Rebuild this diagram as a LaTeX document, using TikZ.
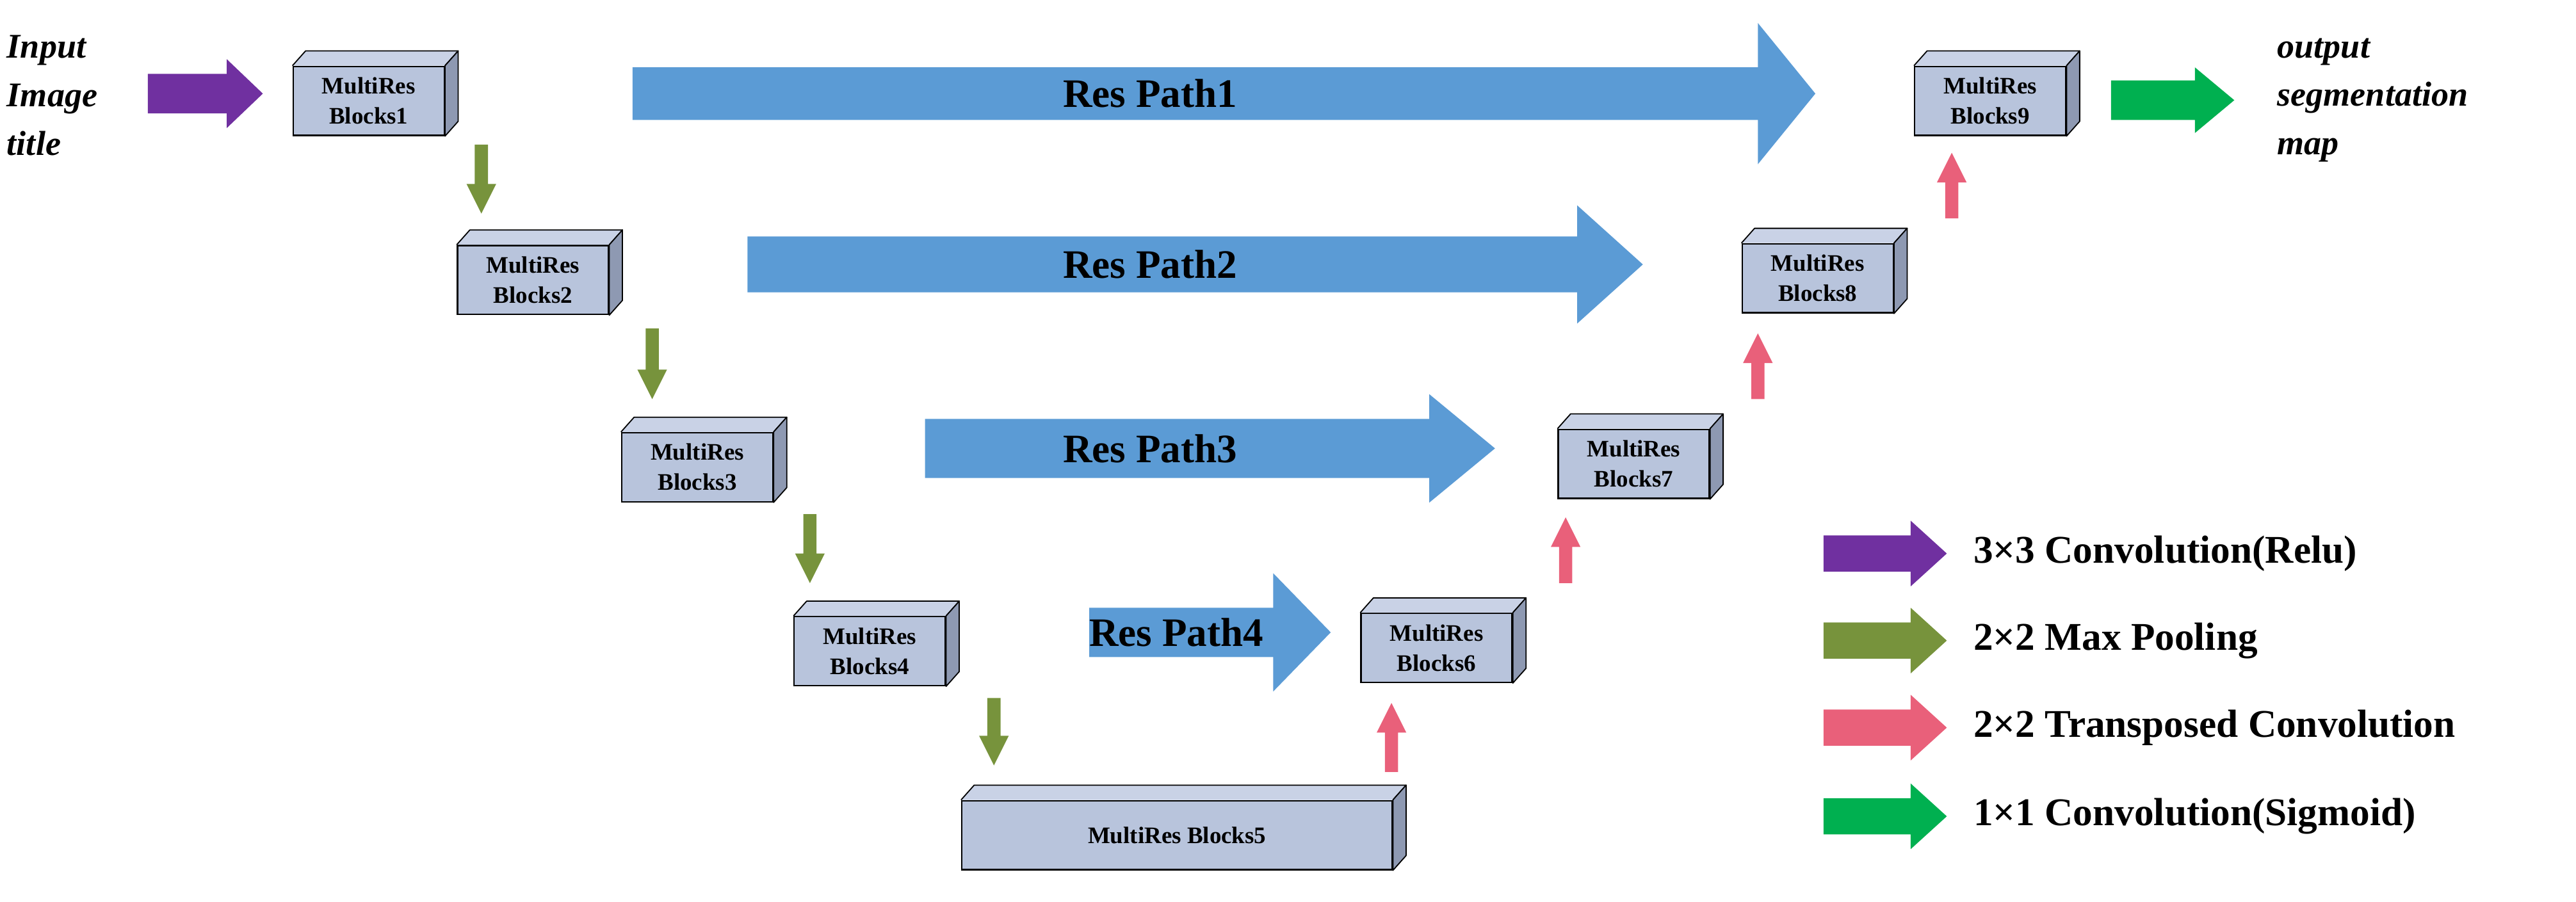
\documentclass[tikz,border=0pt]{standalone}
\usepackage{fontspec}
\setmainfont{Liberation Serif}
\begin{document}
\begin{tikzpicture}[x=0.1cm,y=-0.1cm]
\definecolor{blkf}{HTML}{B8C4DC}\definecolor{blks}{HTML}{8E99B2}\definecolor{blkt}{HTML}{C9D2E6}
\definecolor{cpur}{HTML}{7030A0}\definecolor{cgrn}{HTML}{77933C}\definecolor{cpink}{HTML}{E9607A}
\definecolor{cbg}{HTML}{00B050}\definecolor{cblue}{HTML}{5B9BD5}
\tikzset{blk/.style={draw=black,line width=2.5pt,fill=blkf,inner sep=0pt,align=center,font=\bfseries\fontsize{41}{52}\selectfont},
 face/.style={draw=black,line width=2pt,line join=round},
 rp/.style={font=\bfseries\fontsize{70}{74}\selectfont},
 io/.style={font=\itshape\bfseries\fontsize{60}{84}\selectfont,align=left,anchor=west},
 leg/.style={font=\bfseries\fontsize{68}{72}\selectfont,anchor=west}}
\useasboundingbox (0,0) rectangle (1568,549);
\newcommand\blk[6]{% name, x, y, w, h, text
 \node[blk,anchor=north west,minimum width=#4*0.1cm,minimum height=#5*0.1cm] (#1) at (#2,#3) {};
 \fill[blkt] (#1.north west) -- ++(8,-9) -- ([shift={(8,-9)}]#1.north east) -- (#1.north east) -- cycle;
 \draw[face] (#1.north west) -- ++(8,-9) -- ([shift={(8,-9)}]#1.north east) -- (#1.north east);
 \filldraw[face,fill=blks] (#1.north east) -- ++(8,-9) -- ([shift={(8,-9)}]#1.south east) -- (#1.south east) -- cycle;
 \node[blk,draw=none,fill=none] at (#1.center) {#6};}
\newcommand\harrow[7]{\fill[#7] (#1,#3-#4) -- (#2-#6,#3-#4) -- (#2-#6,#3-#5) -- (#2,#3) -- (#2-#6,#3+#5) -- (#2-#6,#3+#4) -- (#1,#3+#4) -- cycle;}
\newcommand\darrow[4]{\fill[#4] (#1-4,#2) -- (#1+4,#2) -- (#1+4,#3-18) -- (#1+9,#3-18) -- (#1,#3) -- (#1-9,#3-18) -- (#1-4,#3-18) -- cycle;}
\newcommand\uarrow[4]{\fill[#4] (#1-4,#2) -- (#1+4,#2) -- (#1+4,#3+18) -- (#1+9,#3+18) -- (#1,#3) -- (#1-9,#3+18) -- (#1-4,#3+18) -- cycle;}
% res paths
\harrow{385}{1105}{57}{16}{43}{35}{cblue}
\node[rp] (rp1) at (700,57) {Res Path1};
\harrow{455}{1000}{161}{17}{36}{40}{cblue}
\node[rp] (rp2) at (700,161) {Res Path2};
\harrow{563}{910}{273}{18}{33}{40}{cblue}
\node[rp] (rp3) at (700,273) {Res Path3};
\harrow{663}{810}{385}{15}{36}{35}{cblue}
\node[rp] (rp4) at (716,385) {Res Path4};
% blocks
\blk{b1}{178}{40}{92}{42}{MultiRes\\Blocks1}
\blk{b2}{278}{149}{92}{42}{MultiRes\\Blocks2}
\blk{b3}{378}{263}{92}{42}{MultiRes\\Blocks3}
\blk{b4}{483}{375}{92}{42}{MultiRes\\Blocks4}
\blk{b5}{585}{487}{262}{42}{MultiRes Blocks5}
\blk{b6}{828}{373}{92}{42}{MultiRes\\Blocks6}
\blk{b7}{948}{261}{92}{42}{MultiRes\\Blocks7}
\blk{b8}{1060}{148}{92}{42}{MultiRes\\Blocks8}
\blk{b9}{1165}{40}{92}{42}{MultiRes\\Blocks9}
% down/up arrows
\darrow{293}{88}{130}{cgrn}
\darrow{397}{200}{243}{cgrn}
\darrow{493}{313}{355}{cgrn}
\darrow{605}{425}{466}{cgrn}
\uarrow{847}{470}{428}{cpink}
\uarrow{953}{355}{315}{cpink}
\uarrow{1070}{243}{203}{cpink}
\uarrow{1188}{133}{93}{cpink}
% input/output
\harrow{90}{160}{57}{12}{21}{22}{cpur}
\harrow{1285}{1360}{61}{12}{20}{24}{cbg}
\node[io] (in) at (3,58) {Input\\Image\\title};
\node[io] (out) at (1385,61) {output\\segmentation\\map};
% legend
\harrow{1110}{1185}{337}{11}{20}{22}{cpur}
\harrow{1110}{1185}{390}{11}{20}{22}{cgrn}
\harrow{1110}{1185}{443}{11}{20}{22}{cpink}
\harrow{1110}{1185}{497}{11}{20}{22}{cbg}
\node[leg] (l1) at (1200,337) {3×3 Convolution(Relu)};
\node[leg] (l2) at (1200,390) {2×2 Max Pooling};
\node[leg] (l3) at (1200,443) {2×2 Transposed Convolution};
\node[leg] (l4) at (1200,497) {1×1 Convolution(Sigmoid)};
\end{tikzpicture}
\end{document}
